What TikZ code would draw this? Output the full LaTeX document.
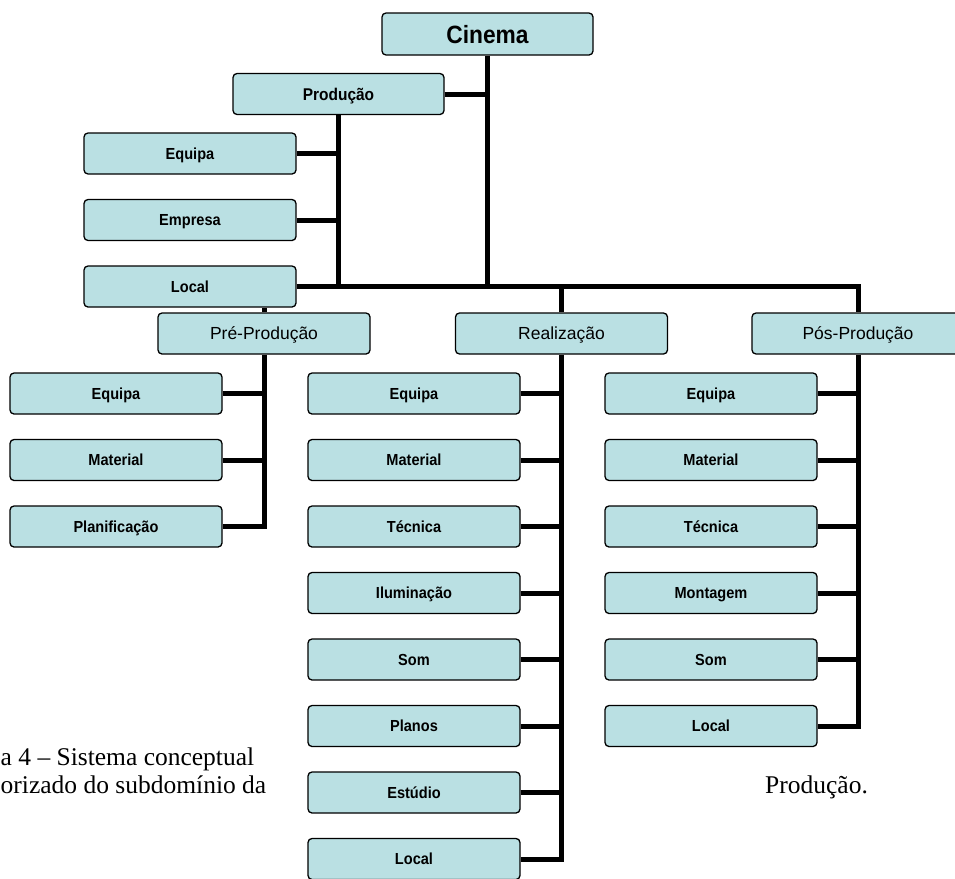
\documentclass[tikz,border=0pt]{standalone}
\usepackage{fontspec}
\setmainfont{Liberation Serif}
\newfontfamily\boxfont[FakeStretch=0.91]{Liberation Sans}
\newfontfamily\phasefont{Liberation Sans}
\usetikzlibrary{positioning}
\definecolor{boxblue}{RGB}{186,224,227}

\begin{document}
\begin{tikzpicture}[x=1pt,y=-1pt,node distance=66.5pt,
                    link/.style={line width=5pt},
                    box/.style={draw, rounded corners=4pt, fill=boxblue, line width=1.3pt,
                                inner sep=0pt, minimum width=212pt, minimum height=41pt, text depth=0pt},
                    leaf/.style={box, text height=11.5pt, font=\boxfont\bfseries\fontsize{16}{18}\selectfont},
                    phase/.style={box, text height=12.5pt, font=\phasefont\fontsize{17.5}{20}\selectfont},
                    caption/.style={anchor=base west, inner sep=0pt, font=\fontsize{25.5}{28}\selectfont}]
  \useasboundingbox (0,0) rectangle (955,878);

  %Cinema%
  \node[box, minimum width=211pt, minimum height=42pt, text height=18pt,
        font=\boxfont\bfseries\fontsize{25}{28}\selectfont] (cinema) at (487.5,34) {Cinema};

  %Producao%
  \node[leaf, minimum width=211pt, text height=12.2pt,
        font=\boxfont\bfseries\fontsize{17}{19}\selectfont] (prod) at (338.5,94) {Produção};
  \node[leaf] (prodeq) at (190,153.5) {Equipa};
  \node[leaf] (prodemp) [below of=prodeq] {Empresa};
  \node[leaf] (prodloc) [below of=prodemp] {Local};

  %Fases%
  \node[phase] (pre) at (264,333.5) {Pré-Produção};
  \node[phase] (rea) at (561.5,333.5) {Realização};
  \node[phase] (pos) at (858,333.5) {Pós-Produção};

  %Pre-Producao%
  \node[leaf] (preeq) at (116,393.5) {Equipa};
  \node[leaf] (premat) [below of=preeq] {Material};
  \node[leaf] (preplan) [below of=premat] {Planificação};

  %Realizacao%
  \node[leaf] (reaeq) at (414,393.5) {Equipa};
  \node[leaf] (reamat) [below of=reaeq] {Material};
  \node[leaf] (reatec) [below of=reamat] {Técnica};
  \node[leaf] (reailu) [below of=reatec] {Iluminação};
  \node[leaf] (reasom) [below of=reailu] {Som};
  \node[leaf] (reapla) [below of=reasom] {Planos};
  \node[leaf] (reaest) [below of=reapla] {Estúdio};
  \node[leaf] (realoc) [below of=reaest] {Local};

  %Pos-Producao%
  \node[leaf] (poseq) at (711,393.5) {Equipa};
  \node[leaf] (posmat) [below of=poseq] {Material};
  \node[leaf] (postec) [below of=posmat] {Técnica};
  \node[leaf] (posmon) [below of=postec] {Montagem};
  \node[leaf] (possom) [below of=posmon] {Som};
  \node[leaf] (posloc) [below of=possom] {Local};

  %Linhas%
  \draw[link] (cinema.south) -- (cinema.south |- prodloc.east);
  \draw[link] (prod.south) |- (prodloc.east);
  \draw[link] (prodloc.east) -| (pos.north);
  \draw[link] (pre.south) |- (preplan.east);
  \draw[link] (rea.south) |- (realoc.east);
  \draw[link] (pos.south) |- (posloc.east);

  \path[link]
    (prod.east) edge (cinema.south |- prod.east)
    (prodeq.east) edge (prod.south |- prodeq.east)
    (prodemp.east) edge (prod.south |- prodemp.east)
    (pre.north) edge (pre.north |- prodloc.south)
    (rea.north) edge (rea.north |- prodloc.east)

    (preeq.east) edge (pre.south |- preeq.east)
    (premat.east) edge (pre.south |- premat.east)

    (reaeq.east) edge (rea.south |- reaeq.east)
    (reamat.east) edge (rea.south |- reamat.east)
    (reatec.east) edge (rea.south |- reatec.east)
    (reailu.east) edge (rea.south |- reailu.east)
    (reasom.east) edge (rea.south |- reasom.east)
    (reapla.east) edge (rea.south |- reapla.east)
    (reaest.east) edge (rea.south |- reaest.east)

    (poseq.east) edge (pos.south |- poseq.east)
    (posmat.east) edge (pos.south |- posmat.east)
    (postec.east) edge (pos.south |- postec.east)
    (posmon.east) edge (pos.south |- posmon.east)
    (possom.east) edge (pos.south |- possom.east);

  %Legenda%
  \node[caption] (cap1) at (0.5,765) {a 4 – Sistema conceptual};
  \node[caption] (cap2) at (0.5,793) {orizado do subdomínio da};
  \node[caption] (cap3) at (765,793) {Produção.};
\end{tikzpicture}
\end{document}
